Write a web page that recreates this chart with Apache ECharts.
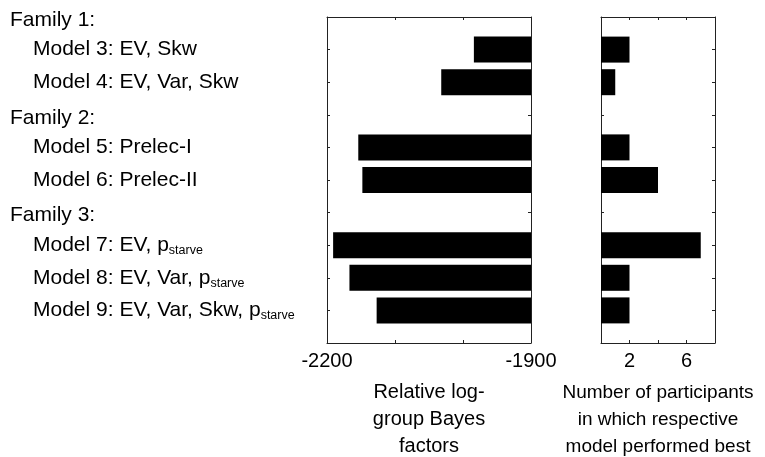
<!DOCTYPE html>
<html>
<head>
<meta charset="utf-8">
<script src="https://cdn.jsdelivr.net/npm/echarts@6/dist/echarts.min.js"></script>
<style>
  html, body { margin: 0; padding: 0; background: #fff; }
  #main { width: 765px; height: 457px; }
</style>
</head>
<body>
<div id="main"></div>
<script>
// rows, top to bottom (last empty row is only the bottom edge)
var rowLabels = [
  "Family 1:",
  "Model 3: EV, Skw",
  "Model 4: EV, Var, Skw",
  "Family 2:",
  "Model 5: Prelec-I",
  "Model 6: Prelec-II",
  "Family 3:",
  "Model 7: EV, p_starve",
  "Model 8: EV, Var, p_starve",
  "Model 9: EV, Var, Skw, p_starve",
  ""
];
// relative log-group Bayes factors
var bayesFactors = ["-", -1984, -2032, "-", -2154, -2148, "-", -2191, -2167, -2127, "-"];
// number of participants where model was best
var bestCounts = ["-", 2, 1, "-", 2, 4, "-", 7, 2, 2, "-"];
// shown tick labels
var leftTickLabels = [-2200, -1900];
var rightTickLabels = [2, 6];

var font = "'Liberation Sans', Arial, sans-serif";
var lineCol = "#222";

function labelFmt(v) {
  if (v === "") return "";
  if (v.indexOf("Family") === 0) return "{f|" + v + "}";
  var parts = v.split("_");
  if (parts.length > 1) return "{m|" + parts[0] + "}{s|" + parts[1] + "}";
  return "{m|" + v + "}";
}

// one box axis (no labels) used for the mirrored ticks
function boxX(grid, pos, min, max, interval) {
  return {
    type: "value", gridIndex: grid, position: pos, min: min, max: max, interval: interval,
    axisLine: { show: true, onZero: false, lineStyle: { color: lineCol, width: 1 } },
    axisTick: { show: true, inside: true, length: 3, lineStyle: { color: lineCol } },
    axisLabel: { show: false },
    splitLine: { show: false }
  };
}
function boxY(grid, pos) {
  return {
    type: "category", gridIndex: grid, position: pos, inverse: true, boundaryGap: false,
    data: rowLabels,
    axisLine: { show: true, onZero: false, lineStyle: { color: lineCol, width: 1 } },
    axisTick: { show: true, inside: true, length: 3, lineStyle: { color: lineCol } },
    axisLabel: { show: false },
    splitLine: { show: false }
  };
}

var xLeft = boxX(0, "bottom", -2200, -1900, 100);
xLeft.axisLabel = {
  show: true, color: "#000", fontSize: 20, fontFamily: font, margin: 8,
  formatter: function (v) { return leftTickLabels.indexOf(v) >= 0 ? String(v) : ""; }
};
xLeft.name = "Relative log-\ngroup Bayes\nfactors";
xLeft.nameLocation = "middle";
xLeft.nameGap = 36;
xLeft.nameTextStyle = { color: "#000", fontSize: 20, fontFamily: font, lineHeight: 27 };

var xRight = boxX(1, "bottom", 0, 8, 2);
xRight.axisLabel = {
  show: true, color: "#000", fontSize: 20, fontFamily: font, margin: 8,
  formatter: function (v) { return rightTickLabels.indexOf(v) >= 0 ? String(v) : ""; }
};
xRight.name = "Number of participants\nin which respective\nmodel performed best";
xRight.nameLocation = "middle";
xRight.nameGap = 36;
xRight.nameTextStyle = { color: "#000", fontSize: 19, fontFamily: font, lineHeight: 27 };

var yLeft = boxY(0, "left");
yLeft.axisLabel = {
  show: true, interval: 0, align: "left", margin: 317, color: "#000",
  fontFamily: font, fontSize: 21,
  formatter: labelFmt,
  rich: {
    f: { fontSize: 21, fontFamily: font, color: "#000", lineHeight: 24, padding: [6, 0, 0, 0] },
    m: { fontSize: 21, fontFamily: font, color: "#000", lineHeight: 24, padding: [0, 0, 0, 23] },
    s: { fontSize: 12.5, fontFamily: font, color: "#000", lineHeight: 14, verticalAlign: "bottom" }
  }
};

var option = {
  animation: false,
  grid: [
    { left: 327, right: 234, top: 17, bottom: 114, containLabel: false, outerBoundsMode: "none" },
    { left: 601, right: 50, top: 17, bottom: 114, containLabel: false, outerBoundsMode: "none" }
  ],
  xAxis: [
    xLeft,
    boxX(0, "top", -2200, -1900, 100),
    xRight,
    boxX(1, "top", 0, 8, 2)
  ],
  yAxis: [
    yLeft,
    boxY(0, "right"),
    boxY(1, "left"),
    boxY(1, "right")
  ],
  series: [
    {
      name: "bayes",
      type: "bar",
      xAxisIndex: 0,
      yAxisIndex: 0,
      barWidth: 26,
      clip: true,
      itemStyle: { color: "#000" },
      data: bayesFactors
    },
    {
      name: "best",
      type: "bar",
      xAxisIndex: 2,
      yAxisIndex: 2,
      barWidth: 26,
      itemStyle: { color: "#000" },
      data: bestCounts
    }
  ]
};

var myChart = echarts.init(document.getElementById("main"));
myChart.setOption(option);
</script>
</body>
</html>
